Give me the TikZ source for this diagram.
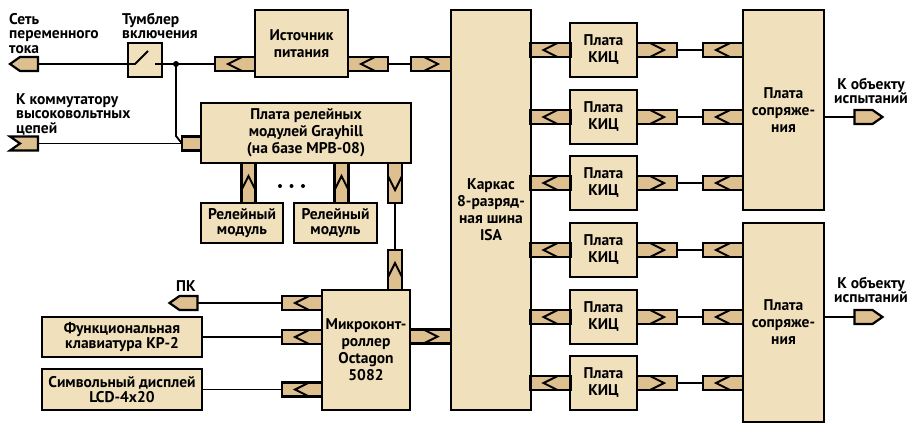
\documentclass[tikz,border=0pt]{standalone}
\usepackage{fontspec}
\setmainfont{PT Sans}
\usepackage{xcolor}
\usetikzlibrary{shapes.symbols, positioning}

\definecolor{boxfill}{RGB}{240,224,187}
\definecolor{plugfill}{RGB}{222,191,143}

% chevrons drawn inside a socket node
\newcommand{\chevL}[1]{\draw[chev] ([xshift=7pt]#1.north) -- ([xshift=-7pt]#1.center) -- ([xshift=7pt]#1.south);}
\newcommand{\chevR}[1]{\draw[chev] ([xshift=-7pt]#1.north) -- ([xshift=7pt]#1.center) -- ([xshift=-7pt]#1.south);}
\newcommand{\chevU}[1]{\draw[chev] ([yshift=-7pt]#1.west) -- ([yshift=7pt]#1.center) -- ([yshift=-7pt]#1.east);}
\newcommand{\chevD}[1]{\draw[chev] ([yshift=7pt]#1.west) -- ([yshift=-7pt]#1.center) -- ([yshift=7pt]#1.east);}

\begin{document}
\begin{tikzpicture}[
    x=1pt, y=-1pt,
    % Block boxes
    box/.style={
        rectangle, draw, fill=boxfill, line width=2.2pt, outer sep=0pt,
        inner sep=0.5pt, align=center,
        font=\bfseries\fontsize{15.5}{17}\selectfont
    },
    smallbox/.style={box, font=\bfseries\fontsize{15.5}{15}\selectfont},
    % Sockets (horizontal / vertical)
    sock/.style={
        rectangle, draw, fill=plugfill, line width=2.2pt, outer sep=0pt,
        inner sep=0pt, minimum width=40pt, minimum height=14pt
    },
    sockv/.style={sock, minimum width=14pt, minimum height=40pt},
    % Free plug ends
    plug/.style={
        signal, draw, fill=plugfill, line width=2.2pt, outer sep=0pt,
        inner sep=0pt, minimum width=28pt, minimum height=14pt,
        signal pointer angle=70
    },
    wire/.style={line width=1.8pt},
    chev/.style={line width=2pt, line join=miter},
    dot/.style={circle, fill, inner sep=0pt, minimum size=6pt},
    lbl/.style={font=\bfseries\fontsize{15.5}{14.5}\selectfont, inner sep=0pt},
]

\useasboundingbox (0,0) rectangle (909,423);

% Column centers
\def\kicx{603.5}
\def\kix{550.5}
\def\kox{657}
\def\six{723}
\def\spx{783.5}

% ===== Power input =====
\node[lbl, anchor=north west, align=left] (t_mains) at (9,13) {Сеть\\переменного\\тока};
\node[plug, signal to=west] (mains) at (29,64) {};
\node[lbl, anchor=north west, align=left] (t_sw) at (122,13) {Тумблер\\включения};
\node[box, minimum width=34pt, minimum height=34pt] (sw) at (145,60) {};
\node[dot] (jn) at (176,64) {};

\node[box, minimum width=93pt, minimum height=67pt] (ps) at (301.5,43.5) {Источник\\питания};
\node[sock] (ps_in) at (235,64) {};
\node[sock] (ps_out) at (368,64) {};

% ===== Relay board =====
\node[lbl, anchor=north west, align=left] (t_hv) at (16,93) {К коммутатору\\высоковольтных\\цепей};
\node[plug, signal from=west, signal to=nowhere] (hv) at (29,143.5) {};
\node[box, minimum width=210pt, minimum height=60pt] (rl) at (306,133)
    {Плата релейных\\модулей Grayhill\\(на базе MPB-08)};
\node[sock, minimum width=19pt] (rl_in) at (191.5,143.5) {};

\node[smallbox, minimum width=82pt, minimum height=40pt] (rm1) at (242,223) {Релейный\\модуль};
\node[smallbox, minimum width=83pt, minimum height=40pt] (rm2) at (335.5,223) {Релейный\\модуль};
\node[sockv] (rm1_s) at (248.5,183) {};
\node[sockv] (rm2_s) at (341.5,183) {};
\node[sockv] (rl_out) at (395,183) {};

\fill (280,186) circle (2pt) (291.5,186) circle (2pt) (303,186) circle (2pt);

% ===== Microcontroller =====
\node[box, minimum width=88pt, minimum height=120pt] (mc) at (366,350)
    {Микроконт-\\роллер\\Octagon\\5082};
\node[sockv] (mc_in) at (395,270) {};
\node[sock] (mc_pc) at (302,303) {};
\node[sock] (mc_kb) at (302,337) {};
\node[sock] (mc_lcd) at (302,389.5) {};
\node[sock, minimum width=41pt] (mc_out) at (430.5,336.5) {};

\node[lbl, anchor=north west] (t_pc) at (176,280) {ПК};
\node[plug, signal to=west] (pc) at (188.5,303) {};
\node[smallbox, minimum width=160pt, minimum height=40pt] (kb) at (122,337)
    {Функциональная\\клавиатура КР-2};
\node[smallbox, minimum width=160pt, minimum height=41pt] (lcd) at (122,389.5)
    {Символьный дисплей\\LCD-4x20};

% ===== ISA frame =====
\node[box, minimum width=80pt, minimum height=400pt] (isa) at (491,210)
    {Каркас\\8-разряд-\\ная шина\\ISA};
\node[sock] (isa_in) at (431,64) {};

% ===== KIC boards =====
\node[box, minimum width=67pt, minimum height=54pt] (kic1) at (\kicx,50) {Плата\\КИЦ};
\node[box, minimum width=67pt, minimum height=54pt] (kic2) at (\kicx,117) {Плата\\КИЦ};
\node[box, minimum width=67pt, minimum height=54pt] (kic3) at (\kicx,183) {Плата\\КИЦ};
\node[box, minimum width=67pt, minimum height=54pt] (kic4) at (\kicx,250) {Плата\\КИЦ};
\node[box, minimum width=67pt, minimum height=54pt] (kic5) at (\kicx,317) {Плата\\КИЦ};
\node[box, minimum width=67pt, minimum height=54pt] (kic6) at (\kicx,383) {Плата\\КИЦ};

\node[sock] (ki1) at (\kix,50) {};
\node[sock] (ki2) at (\kix,117) {};
\node[sock] (ki3) at (\kix,183) {};
\node[sock] (ki4) at (\kix,250) {};
\node[sock] (ki5) at (\kix,317) {};
\node[sock] (ki6) at (\kix,383) {};

\node[sock] (ko1) at (\kox,50) {};
\node[sock] (ko2) at (\kox,117) {};
\node[sock] (ko3) at (\kox,183) {};
\node[sock] (ko4) at (\kox,250) {};
\node[sock] (ko5) at (\kox,317) {};
\node[sock] (ko6) at (\kox,383) {};

% ===== Interface boards =====
\node[box, minimum width=81pt, minimum height=200pt] (sp1) at (\spx,110) {Плата\\сопряже-\\ния};
\node[box, minimum width=81pt, minimum height=199pt] (sp2) at (\spx,322.5) {Плата\\сопряже-\\ния};

\node[sock] (si1) at (\six,50) {};
\node[sock] (si2) at (\six,117) {};
\node[sock] (si3) at (\six,183) {};
\node[sock] (si4) at (\six,250) {};
\node[sock] (si5) at (\six,317) {};
\node[sock] (si6) at (\six,383) {};

\node[plug, signal to=east] (obj1) at (863.5,117) {};
\node[plug, signal to=east] (obj2) at (863.5,317) {};
\node[lbl, anchor=north, align=center] (t_obj1) at (871,78) {К объекту\\испытаний};
\node[lbl, anchor=north, align=center] (t_obj2) at (871,277) {К объекту\\испытаний};

% ===== Chevrons =====
\chevL{ps_in} \chevL{ps_out} \chevR{isa_in}
\chevU{rm1_s} \chevU{rm2_s} \chevD{rl_out} \chevU{mc_in}
\chevL{mc_pc} \chevL{mc_kb} \chevL{mc_lcd} \chevR{mc_out}
\chevL{ki1} \chevL{ki2} \chevL{ki3} \chevL{ki4} \chevL{ki5} \chevL{ki6}
\chevR{ko1} \chevR{ko2} \chevR{ko3} \chevR{ko4} \chevR{ko5} \chevR{ko6}
\chevL{si1} \chevL{si2} \chevL{si3} \chevL{si4} \chevL{si5} \chevL{si6}

% ===== Wires =====
% toggle switch contact
\draw[wire] (mains.east) -- (mains.east -| sw.west) -- ++(7,0) -- ++(13,-13);
\draw[wire] (jn.center) -- ++(-21,0);
\draw[wire] (jn.center) -- (ps_in.west);
\draw[wire] (jn.center) -- ++(0,72) -- (rl_in.west);
\draw[wire] (hv.east) -- (rl_in.west);
\draw[wire] (ps_out.east) -- (isa_in.west);
\draw[wire] (rl_out.south) -- (mc_in.north);
\draw[wire] (pc.east) -- (mc_pc.west);
\draw[wire] (kb.east) -- (mc_kb.west);
\draw[wire] (lcd.east) -- (mc_lcd.west);

\draw[wire] (ko1.east) -- (si1.west);
\draw[wire] (ko2.east) -- (si2.west);
\draw[wire] (ko3.east) -- (si3.west);
\draw[wire] (ko4.east) -- (si4.west);
\draw[wire] (ko5.east) -- (si5.west);
\draw[wire] (ko6.east) -- (si6.west);

\draw[wire] (sp1.east |- obj1) -- (obj1.west);
\draw[wire] (sp2.east |- obj2) -- (obj2.west);

\end{tikzpicture}
\end{document}
